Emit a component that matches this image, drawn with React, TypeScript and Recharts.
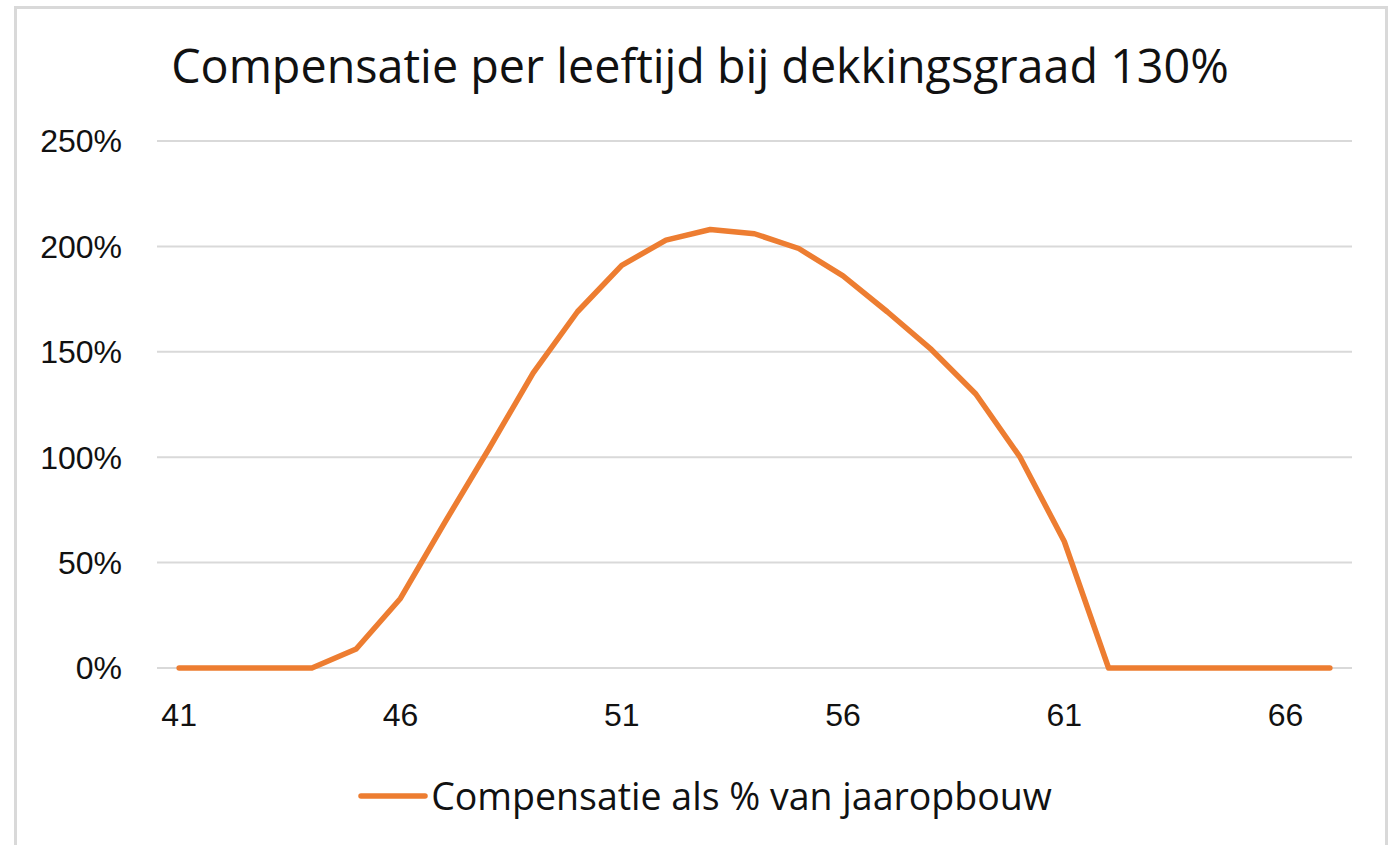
import React from 'react';
import { LineChart, Line, XAxis, YAxis, CartesianGrid, Legend } from 'recharts';

const ages = [41, 42, 43, 44, 45, 46, 47, 48, 49, 50, 51, 52, 53, 54, 55, 56, 57, 58, 59, 60, 61, 62, 63, 64, 65, 66, 67];
const compensatie = [0, 0, 0, 0, 9, 33, 69, 104, 140, 169, 191, 203, 208, 206, 199, 186, 169, 151, 130, 100, 60, 0, 0, 0, 0, 0, 0];
const xTicks = [41, 46, 51, 56, 61, 66];
const yTicks = [0, 50, 100, 150, 200, 250];
const title = 'Compensatie per leeftijd bij dekkingsgraad 130%';
const seriesName = 'Compensatie als % van jaaropbouw';

const data = ages.map((a, i) => ({ age: a, value: compensatie[i] }));

const ORANGE = '#ED7D31';
const TITLE_FONT = '"Open Sans", "Liberation Sans", Arial, sans-serif';
const TICK_FONT = '"Liberation Sans", Arial, sans-serif';

const LegendContent = () => (
  <div style={{ display: 'flex', justifyContent: 'center', alignItems: 'center', width: '100%' }}>
    <svg width={70} height={10} style={{ display: 'block', marginRight: 3 }}>
      <line x1={3} y1={5} x2={67} y2={5} stroke={ORANGE} strokeWidth={5.5} strokeLinecap="round" />
    </svg>
    <span style={{ fontFamily: TITLE_FONT, fontSize: 37.5, color: '#111', whiteSpace: 'nowrap', lineHeight: '44px' }}>
      {seriesName}
    </span>
  </div>
);

export default function App() {
  return (
    <div style={{ position: 'absolute', left: 0, top: 0, width: 1397, height: 845, overflow: 'hidden', background: '#fff' }}>
      <div
        style={{
          position: 'absolute',
          left: 14,
          top: 6,
          width: 1374,
          height: 900,
          border: '3px solid #d9d9d9',
          boxSizing: 'border-box',
        }}
      />
      <div
        style={{
          position: 'absolute',
          left: 0,
          width: 1400,
          top: 35,
          textAlign: 'center',
          fontFamily: TITLE_FONT,
          fontSize: 46.7,
          lineHeight: '60px',
          color: '#111',
          whiteSpace: 'nowrap',
        }}
      >
        {title}
      </div>
      <div style={{ position: 'absolute', left: 0, top: 0 }}>
        <LineChart width={1397} height={845} data={data} margin={{ top: 141, right: 45, bottom: 117, left: 0 }}>
          <CartesianGrid horizontal={true} vertical={false} stroke="#d9d9d9" strokeWidth={2} />
          <XAxis
            dataKey="age"
            type="number"
            domain={[40.5, 67.5]}
            ticks={xTicks}
            axisLine={false}
            tickLine={false}
            tickSize={0}
            tickMargin={35}
            height={60}
            tick={{ fontFamily: TICK_FONT, fontSize: 32, fill: '#111' }}
            interval={0}
          />
          <YAxis
            domain={[0, 250]}
            ticks={yTicks}
            axisLine={false}
            tickLine={false}
            tickSize={0}
            tickMargin={35}
            width={157}
            tickFormatter={(v: number) => `${v}%`}
            tick={{ fontFamily: TICK_FONT, fontSize: 32, fill: '#111' }}
            interval={0}
          />
          <Legend
            layout="vertical"
            align="center"
            verticalAlign="middle"
            content={<LegendContent />}
            wrapperStyle={{ top: 774, left: 0, width: 1410, height: 44 }}
          />
          <Line
            type="linear"
            dataKey="value"
            name={seriesName}
            stroke={ORANGE}
            strokeWidth={5.5}
            dot={false}
            strokeLinejoin="round"
            strokeLinecap="round"
            isAnimationActive={false}
          />
        </LineChart>
      </div>
    </div>
  );
}
